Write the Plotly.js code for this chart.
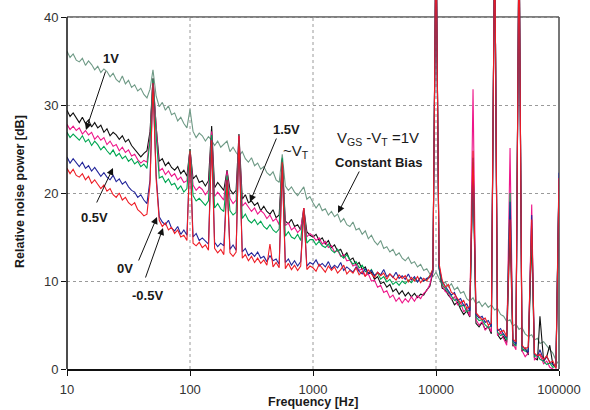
<!DOCTYPE html>
<html>
<head>
<meta charset="utf-8">
<script src="https://cdn.plot.ly/plotly-3.0.1.min.js"></script>
<style>html,body{margin:0;padding:0;background:#fff;}#chart{width:590px;height:410px;}</style>
</head>
<body>
<div id="chart"></div>
<script>
// Frequency axis [Hz]
const freq = [
10, 10.59, 11.22, 11.89, 12.59, 13.34, 14.13, 14.96, 15.85, 16.79, 17.78, 18.84, 19.95, 21.13, 22.39, 23.71, 25.12, 26.61, 28.18, 29.85, 31.62, 33.5, 35.48, 37.58, 39.81, 42.17, 44.67, 47.32, 50, 53.09, 56.23, 59.57, 63.1, 66.83, 70.79, 74.99, 79.43, 84.14, 89.13, 94.41,
100, 105.9, 112.2, 118.9, 125.9, 133.4, 141.3, 150, 158.5, 167.9, 177.8, 188.4, 200, 211.3, 223.9, 237.1, 250, 266.1, 281.8, 298.5, 316.2, 335, 354.8, 375.8, 398.1, 421.7, 446.7, 473.2, 501.2, 530.9, 562.3, 595.7, 631, 668.3, 707.9, 749.9, 794.3, 841.4, 891.3, 944.1,
1000, 1059, 1122, 1189, 1259, 1334, 1413, 1496, 1585, 1679, 1778, 1884, 1995, 2113, 2239, 2371, 2512, 2661, 2818, 2985, 3162, 3350, 3548, 3758, 3981, 4217, 4467, 4732, 5012, 5309, 5623, 5957, 6310, 6683, 7079, 7499, 7943, 8414, 8913, 9441,
10000, 10590, 11220, 11890, 12590, 13340, 14130, 14960, 15850, 16790, 17780, 18840, 20000, 21130, 22390, 23710, 25120, 26610, 28180, 30000, 31620, 33500, 35480, 37580, 40000, 42170, 44670, 47320, 50000, 53090, 56230, 60000, 63100, 66830, 70000, 74990, 79430, 84140, 89130, 94410, 100000
];

// Constant bias VGS-VT = 1V (grey-green)
const constBias = [
36.1, 35.4, 35.8, 35.1, 34.9, 35.3, 34.5, 35.0, 34.6, 34.0, 34.4, 33.7, 34.1, 33.8, 33.2, 33.6, 32.9, 32.6, 33.3, 32.4, 32.8, 32.0, 32.3, 31.6, 31.9, 31.2, 30.8, 31.8, 34.0, 31.0, 29.8, 30.3, 29.4, 29.9, 28.9, 29.1, 28.2, 28.6, 27.9, 27.4,
29.5, 27.0, 26.3, 26.8, 26.5, 25.9, 26.4, 26.0, 25.4, 25.9, 25.2, 25.5, 25.9, 24.7, 25.2, 24.6, 24.2, 24.7, 23.9, 23.5, 24.0, 23.1, 23.4, 22.7, 23.0, 22.3, 22.0, 22.4, 21.5, 21.2, 24.4, 20.8, 20.3, 20.7, 20.1, 19.7, 20.2, 20.7, 19.3, 19.6,
18.9, 18.3, 18.8, 18.0, 18.2, 17.5, 17.9, 17.3, 17.6, 16.7, 17.1, 16.4, 16.2, 16.7, 15.8, 16.0, 15.3, 15.7, 14.8, 15.2, 14.5, 14.1, 14.6, 13.7, 13.9, 13.3, 13.6, 12.9, 13.2, 12.6, 12.3, 12.7, 12.0, 12.2, 11.6, 11.9, 11.2, 11.4, 10.8, 10.5,
11.0, 10.2, 9.6, 9.9, 9.3, 9.7, 9.0, 9.3, 8.6, 8.8, 8.0, 7.7, 8.1, 7.4, 7.7, 7.1, 7.5, 7.0, 7.3, 6.7, 6.9, 6.2, 6.0, 5.4, 5.6, 4.9, 5.1, 4.5, 4.7, 4.0, 3.7, 3.9, 3.3, 3.5, 2.9, 3.1, 2.6, 2.2, 1.8, 1.0, 0.5
];

// 1.5V ~VT (black)
const v15 = [
29.4, 28.7, 29.1, 28.5, 28.0, 28.6, 27.9, 28.3, 27.5, 28.0, 27.4, 27.7, 26.9, 27.3, 26.5, 26.9, 26.6, 26.1, 26.5, 25.8, 26.1, 25.4, 25.0, 24.6, 24.1, 24.5, 24.8, 27.0, 33.0, 27.5, 23.6, 23.9, 23.1, 23.5, 22.9, 22.6, 23.0, 22.2, 22.6, 21.9,
25.0, 21.6, 22.0, 21.2, 21.4, 20.8, 21.4, 27.6, 20.6, 21.2, 20.7, 20.3, 22.6, 20.4, 19.9, 20.3, 26.7, 19.3, 19.8, 18.9, 19.1, 18.6, 18.9, 18.0, 18.5, 17.9, 17.6, 18.1, 17.2, 17.5, 23.8, 16.8, 16.5, 17.0, 16.2, 16.4, 15.8, 18.3, 15.6, 15.2,
15.0, 15.3, 14.6, 14.9, 14.2, 14.6, 13.8, 14.1, 13.4, 13.6, 12.8, 13.2, 12.4, 12.6, 11.8, 12.1, 11.3, 11.6, 10.8, 11.0, 10.2, 10.5, 9.7, 9.9, 9.3, 9.6, 8.8, 9.1, 8.5, 8.9, 8.3, 8.7, 8.2, 8.6, 8.1, 8.5, 8.4, 9.0, 9.4, 11.0,
50, 11.5, 9.2, 9.0, 8.4, 8.0, 7.3, 7.6, 6.8, 6.2, 6.6, 5.9, 23.0, 5.2, 4.8, 5.3, 4.5, 4.8, 4.0, 50, 3.9, 3.4, 3.7, 3.0, 16.0, 2.6, 2.9, 50, 2.0, 2.4, 1.6, 15.0, 1.3, 1.0, 6.0, 0.9, 1.4, 2.7, 0.5, 0.2, 21.0
];

// 1V (magenta)
const v10 = [
27.8, 27.2, 27.6, 27.1, 27.4, 26.7, 27.1, 26.6, 26.9, 26.1, 26.5, 26.0, 26.3, 25.5, 25.9, 25.3, 25.5, 24.8, 25.2, 24.6, 24.9, 24.2, 24.4, 23.8, 23.4, 23.7, 23.5, 26.5, 33.0, 27.0, 22.5, 22.8, 22.1, 22.5, 21.9, 22.2, 21.5, 21.8, 21.2, 21.4,
25.0, 20.9, 20.3, 20.7, 20.4, 19.8, 20.3, 27.0, 19.6, 20.1, 19.6, 19.2, 22.5, 19.4, 18.8, 19.2, 26.5, 18.5, 18.9, 18.4, 17.9, 18.3, 17.6, 18.0, 17.7, 17.1, 17.5, 16.8, 17.1, 16.4, 23.8, 16.3, 16.6, 15.8, 16.1, 15.5, 15.9, 18.3, 15.0, 15.4,
15.1, 14.6, 14.9, 14.2, 14.5, 13.8, 14.0, 13.3, 13.5, 12.8, 13.0, 12.3, 12.4, 11.7, 11.9, 11.2, 11.4, 10.6, 10.8, 10.0, 10.1, 9.3, 9.5, 8.7, 8.9, 8.1, 8.4, 7.7, 8.1, 7.5, 8.0, 7.6, 8.2, 7.7, 8.3, 8.0, 8.6, 8.9, 9.6, 11.2,
50, 11.8, 9.5, 8.8, 8.6, 7.9, 8.2, 7.3, 7.6, 6.5, 6.9, 6.0, 31.8, 5.6, 5.0, 5.4, 4.4, 4.9, 4.2, 50, 3.8, 4.2, 3.4, 2.7, 25.1, 2.9, 2.2, 50, 2.1, 1.4, 1.8, 18.7, 1.0, 1.3, 1.6, 0.6, 0.9, 0.2, 0.0, -0.5, 21.5
];

// 0.5V (green)
const v05 = [
26.9, 26.3, 26.7, 26.4, 26.0, 26.5, 25.8, 26.1, 25.4, 25.9, 25.5, 24.9, 25.3, 24.8, 24.4, 24.9, 24.2, 24.5, 23.9, 24.2, 23.6, 23.9, 23.3, 23.6, 23.0, 23.3, 22.8, 26.0, 33.0, 26.5, 21.7, 21.9, 21.2, 21.6, 20.9, 21.1, 20.4, 20.8, 20.1, 20.5,
25.0, 19.7, 19.1, 19.4, 19.0, 18.6, 19.1, 26.6, 18.3, 18.8, 18.2, 17.9, 22.0, 18.0, 17.5, 17.8, 26.0, 17.1, 17.6, 16.9, 16.6, 17.0, 16.4, 16.8, 16.2, 15.9, 16.4, 15.8, 15.5, 15.9, 24.0, 15.1, 15.6, 15.0, 14.8, 15.3, 14.6, 18.0, 14.3, 14.7,
14.7, 14.1, 14.5, 14.0, 13.8, 14.2, 13.5, 13.2, 13.6, 12.9, 12.6, 13.0, 12.4, 11.9, 12.2, 11.5, 11.8, 11.1, 10.9, 11.3, 10.6, 10.9, 10.2, 10.5, 9.9, 10.2, 9.6, 9.9, 9.5, 10.0, 9.7, 10.1, 9.8, 10.3, 9.9, 10.4, 10.0, 10.2, 10.6, 11.3,
50, 11.4, 9.6, 9.2, 8.7, 8.3, 7.8, 7.9, 7.1, 7.3, 6.5, 6.7, 23.5, 5.9, 5.5, 5.6, 5.0, 4.7, 4.9, 50, 4.2, 3.8, 4.0, 3.3, 20.0, 3.0, 2.6, 50, 2.3, 2.0, 2.2, 16.0, 1.4, 1.6, 1.1, 0.9, 0.5, 0.7, 0.2, 0.3, 21.5
];

// 0V (blue)
const v00 = [
24.1, 23.4, 23.9, 23.5, 23.0, 23.5, 22.8, 23.1, 22.5, 22.9, 22.4, 21.9, 22.3, 21.8, 21.5, 22.0, 21.3, 21.6, 21.0, 21.3, 20.7, 20.3, 20.1, 19.5, 19.8, 19.2, 18.8, 21.5, 32.5, 22.0, 17.3, 16.7, 16.4, 16.9, 16.0, 15.7, 16.2, 15.3, 15.8, 15.2,
24.5, 15.0, 15.4, 14.6, 14.9, 14.5, 14.2, 26.0, 14.4, 13.9, 14.3, 14.0, 21.5, 13.6, 14.1, 13.5, 26.0, 13.3, 13.7, 12.9, 13.2, 12.8, 13.3, 12.6, 12.8, 12.2, 12.9, 12.3, 12.5, 11.9, 23.0, 12.1, 12.5, 11.8, 12.3, 11.7, 12.2, 17.8, 11.7, 12.1,
11.9, 12.4, 11.7, 12.0, 11.6, 12.2, 11.4, 11.8, 11.5, 12.1, 11.2, 11.6, 11.3, 11.0, 11.6, 11.1, 10.8, 11.4, 10.9, 11.2, 10.6, 11.0, 10.7, 11.3, 10.5, 10.8, 10.4, 11.0, 10.3, 10.6, 10.2, 10.8, 10.1, 10.5, 9.9, 10.4, 10.0, 10.3, 10.4, 11.2,
50, 11.6, 9.9, 9.4, 9.0, 8.4, 8.7, 7.8, 8.0, 7.2, 7.4, 6.6, 24.0, 6.2, 5.8, 6.0, 5.3, 5.5, 4.8, 50, 4.3, 4.6, 3.9, 3.6, 19.0, 3.3, 2.8, 50, 2.6, 2.2, 1.9, 17.5, 1.7, 1.4, 2.2, 1.0, 1.4, 0.8, 0.5, 0.3, 22.3
];

// -0.5V (red)
const vm05 = [
22.8, 22.2, 22.7, 22.0, 21.8, 22.2, 21.5, 21.9, 21.1, 21.5, 21.0, 20.5, 20.9, 20.2, 20.5, 19.8, 19.5, 20.0, 19.2, 19.5, 18.9, 18.6, 18.9, 18.1, 17.8, 17.4, 17.6, 21.0, 32.5, 21.5, 16.9, 16.2, 16.6, 15.8, 16.1, 15.4, 15.8, 15.0, 15.2, 14.6,
24.8, 14.3, 14.0, 14.4, 13.8, 14.1, 13.5, 26.0, 13.7, 13.2, 13.6, 13.0, 21.5, 13.2, 12.8, 13.3, 26.5, 12.6, 13.0, 12.3, 12.8, 12.1, 12.6, 12.0, 12.4, 11.8, 14.2, 11.6, 12.1, 11.5, 23.5, 11.4, 12.0, 11.3, 11.8, 11.2, 11.7, 18.3, 11.3, 11.7,
11.5, 11.1, 11.9, 11.4, 11.0, 11.7, 11.2, 11.6, 10.9, 11.3, 11.8, 10.8, 11.2, 10.9, 11.5, 10.7, 11.1, 10.5, 11.3, 10.8, 10.4, 11.0, 10.6, 10.9, 10.2, 10.8, 10.5, 10.1, 10.7, 10.3, 10.6, 9.9, 10.4, 10.0, 10.5, 9.8, 10.3, 10.0, 10.6, 11.4,
50, 12.0, 10.1, 9.3, 9.6, 8.7, 8.5, 8.0, 7.5, 7.8, 6.9, 7.1, 24.8, 6.4, 6.0, 5.6, 5.8, 5.0, 5.2, 50, 4.6, 4.2, 4.4, 3.7, 17.0, 3.4, 3.1, 50, 2.7, 2.3, 2.5, 17.0, 1.8, 1.5, 1.7, 1.1, 1.5, 0.7, 0.9, 0.1, 21.7
];

const xTicks = [10, 100, 1000, 10000, 100000];
const xTickText = ['10', '100', '1000', '10000', '100000'];
const yTicks = [0, 10, 20, 30, 40];

const FONT = 'Liberation Sans, Arial, Helvetica, sans-serif';
const series = [
  {name: 'VGS-VT=1V constant bias', y: constBias, color: '#6f9a86'},
  {name: '1.5V', y: v15, color: '#111111'},
  {name: '1V', y: v10, color: '#ee1689'},
  {name: '0.5V', y: v05, color: '#00a651'},
  {name: '0V', y: v00, color: '#23269a'},
  {name: '-0.5V', y: vm05, color: '#ee1c25'}
];
const traces = series.map(s => ({
  type: 'scatter', mode: 'lines', x: freq, y: s.y, name: s.name,
  line: {color: s.color, width: 1.1}, hoverinfo: 'skip'
}));

// layout helpers: pixel -> paper
const PL = 67, PW = 492, PH = 369;
const px = v => (v - PL) / PW;
const py = v => (PH - v) / PH;

function label(text, x, y, opts) {
  return Object.assign({
    xref: 'paper', yref: 'paper', x: px(x), y: py(y), text: text, showarrow: false,
    xanchor: 'center', yanchor: 'middle',
    font: {family: FONT, size: 13, color: '#1a1a1a'}
  }, opts || {});
}
function arrow(tx, ty, hx, hy) {
  return {
    xref: 'paper', yref: 'paper', x: px(hx), y: py(hy), ax: tx - hx, ay: ty - hy,
    text: '', showarrow: true, arrowhead: 2, arrowsize: 1.4, arrowwidth: 1,
    arrowcolor: '#111', standoff: 0, startstandoff: 0
  };
}

const annotations = [
  label('<b>1V</b>', 111, 59),
  arrow(106, 70, 86, 130),
  label('<b>1.5V</b>', 286, 129),
  label('~V<sub>T</sub>', 296, 151, {font: {family: FONT, size: 15, color: '#1a1a1a'}}),
  arrow(277, 137, 250, 202),
  label('V<sub>GS</sub> -V<sub>T</sub> =1V', 378, 138, {font: {family: FONT, size: 15, color: '#1a1a1a'}}),
  label('<b>Constant Bias</b>', 378, 163),
  arrow(360, 170, 338, 213),
  label('<b>0.5V</b>', 94, 217),
  arrow(96, 204, 113, 168),
  label('<b>0V</b>', 125, 268),
  arrow(138, 262, 157, 217),
  label('<b>-0.5V</b>', 147, 295),
  arrow(145, 279, 163, 228),
  label('<b>Frequency [Hz]</b>', 313, 402.5, {font: {family: FONT, size: 12.5, color: '#1a1a1a'}}),
  label('<b>Relative noise power [dB]</b>', 20, 192, {textangle: -90, font: {family: FONT, size: 12.5, color: '#1a1a1a'}})
];

const gridLine = {color: '#9a9a9a', width: 1, dash: 'dot'};
const shapes = [0.25, 0.5, 0.75].map(p => ({
  type: 'line', layer: 'below', xref: 'paper', yref: 'y', x0: p, x1: p, y0: 0, y1: 40, line: gridLine
}));
shapes.push({type: 'line', layer: 'below', xref: 'paper', yref: 'y', x0: 0, x1: 1, y0: 40, y1: 40, line: {color: '#555', width: 1.6}});
shapes.push({type: 'line', layer: 'below', xref: 'paper', yref: 'y', x0: 1, x1: 1, y0: 0, y1: 40, line: {color: '#555', width: 1.6}});
shapes.push({type: 'line', layer: 'above', xref: 'paper', yref: 'y', x0: 0, x1: 0, y0: 0, y1: 40, line: {color: '#111', width: 1.5}});

const layout = {
  width: 590, height: 410,
  margin: {l: 67, r: 31, t: 0, b: 41, pad: 0},
  paper_bgcolor: '#fff', plot_bgcolor: '#fff',
  showlegend: false,
  font: {family: FONT, size: 13, color: '#333'},
  xaxis: {
    type: 'log', range: [1, 5], tickvals: xTicks, ticktext: xTickText,
    ticks: 'outside', ticklen: 5, tickwidth: 1, tickcolor: '#111',
    showline: true, linecolor: '#111', linewidth: 2,
    showgrid: false, zeroline: false, ticklabelstandoff: 2,
    tickfont: {family: FONT, size: 13, color: '#333'}
  },
  yaxis: {
    range: [0, 369 / 8.8], tickvals: yTicks,
    ticks: 'outside', ticklen: 5, tickwidth: 1, tickcolor: '#111',
    showline: false, zeroline: false,
    showgrid: true, gridcolor: '#9a9a9a', griddash: 'dot', gridwidth: 1,
    tickfont: {family: FONT, size: 13, color: '#333'}
  },
  shapes: shapes,
  annotations: annotations
};

Plotly.newPlot('chart', traces, layout, {staticPlot: true, displayModeBar: false});
</script>
</body>
</html>
